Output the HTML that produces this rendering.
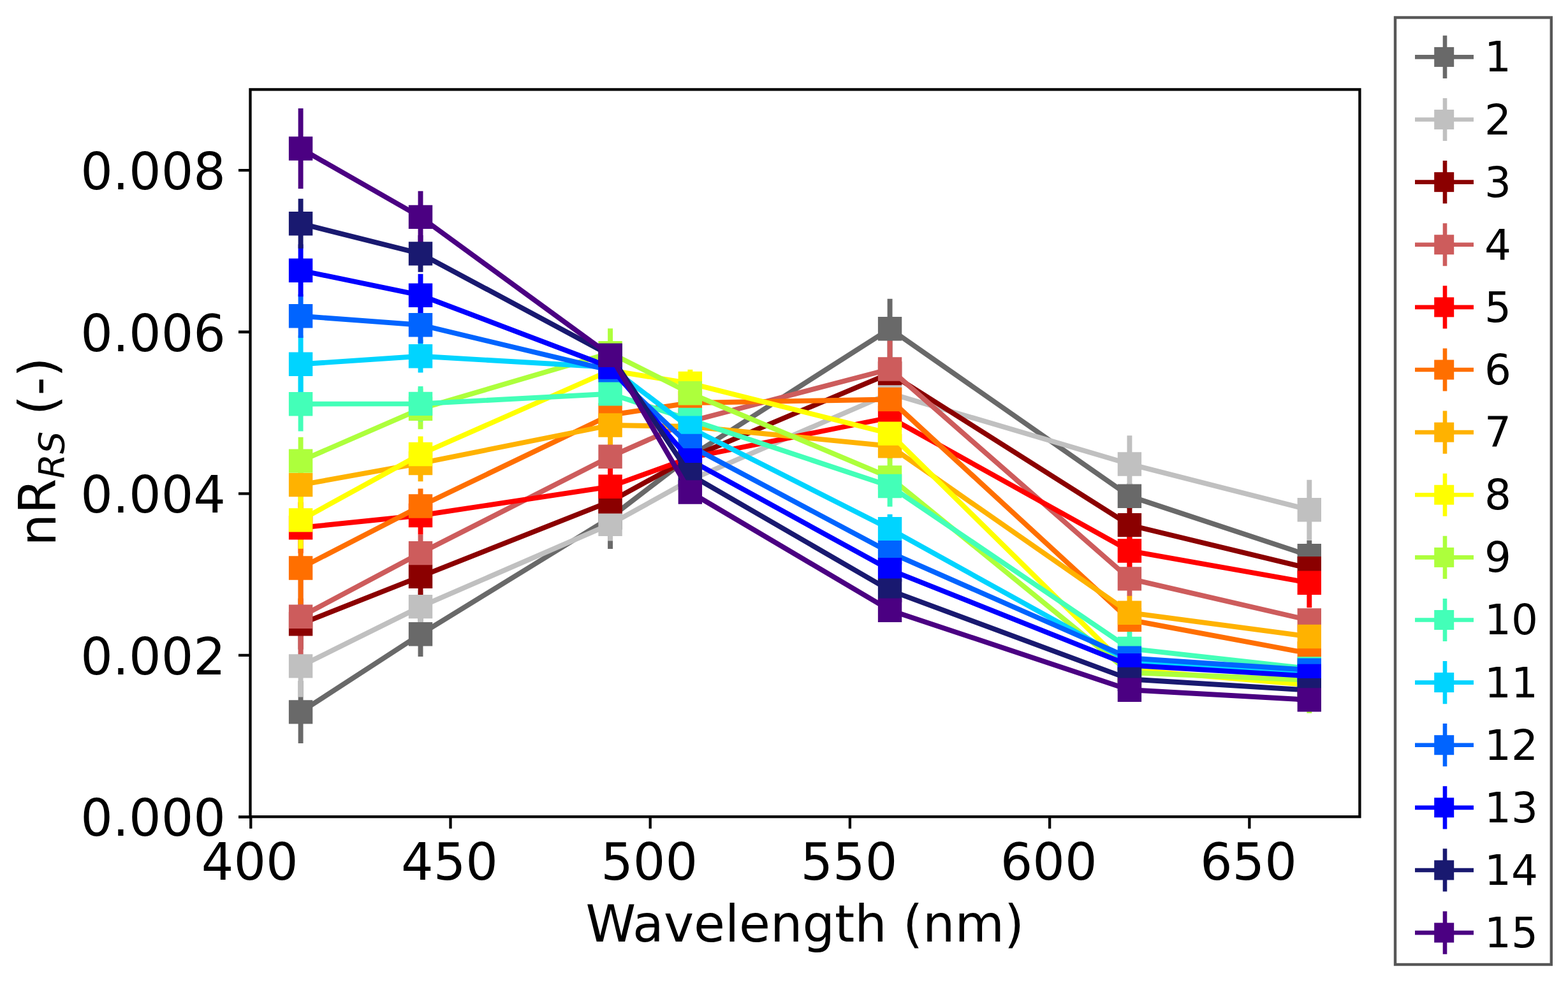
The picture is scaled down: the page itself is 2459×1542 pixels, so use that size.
<!DOCTYPE html>
<html><head><meta charset="utf-8"><title>nRrs spectra</title>
<style>html,body{margin:0;padding:0;background:#fff;}svg{display:block;}text{font-family:"DejaVu Sans","Liberation Sans",sans-serif;fill:#000;}</style></head><body>
<svg width="2459" height="1542" viewBox="0 0 2459 1542">
<rect x="0" y="0" width="2459" height="1542" fill="#fff"/>
<defs><clipPath id="ax"><rect x="392.5" y="140.4" width="1739.9" height="1140.8"/></clipPath></defs>
<g clip-path="url(#ax)">
<g stroke-width="7.9" stroke-linecap="butt" fill="none">
<path stroke="#696969" d="M471.59 1067.9V1165.9M659.51 959.6V1030M957.07 763V861M1082.35 701V731M1395.57 468.8V562.8M1771.42 758.3V798.3M2053.31 847.6V895.6"/>
<path stroke="#c0c0c0" d="M471.59 996.3V1093.5M659.51 926.6V976.6M957.07 796.4V848.4M1082.35 738V768M1395.57 597V637M1771.42 683.3V772.7M2053.31 752.8V846.8"/>
<path stroke="#8b0000" d="M471.59 938.7V1018.7M659.51 875.6V933.2M957.07 766.7V806.7M1082.35 703V733M1395.57 565.6V605.6M1771.42 796.6V850.6M2053.31 876.8V906.8"/>
<path stroke="#cd5c5c" d="M471.59 907.3V1027.3M659.51 838.5V896.7M957.07 696.3V736.3M1082.35 646V676M1395.57 533V625M1771.42 880.9V934.9M2053.31 957.9V987.9"/>
<path stroke="#ff0000" d="M471.59 787.8V867.8M659.51 778.5V838.5M957.07 734.3V792.3M1082.35 703V733M1395.57 635V675M1771.42 838V890M2053.31 875.1V953.3"/>
<path stroke="#ff6f00" d="M471.59 834V948M659.51 766.5V821.5M957.07 631V671M1082.35 617V647M1395.57 606.5V646.5M1771.42 957.4V987.4M2053.31 1010V1040"/>
<path stroke="#ffb200" d="M471.59 725.6V795.6M659.51 698V755.2M957.07 636V698M1082.35 654V684M1395.57 679.7V719.7M1771.42 934.7V987.7M2053.31 983.5V1013.5"/>
<path stroke="#ffff00" d="M471.59 771.1V860.7M659.51 684.4V740.6M957.07 561V601M1082.35 579.7V623.1M1395.57 660.1V700.1M1771.42 1035.4V1065.4M2053.31 1059.5V1089.5"/>
<path stroke="#adff3c" d="M471.59 685.7V760.5M659.51 609.3V673.3M957.07 515.3V592.1M1082.35 601.8V631.8M1395.57 718.8V779.2M1771.42 1039.9V1069.9M2053.31 1014.8V1118.8"/>
<path stroke="#43ffb8" d="M471.59 591V676.4M659.51 606V660.8M957.07 597.7V637.7M1082.35 643.4V673.4M1395.57 730.2V794.8M1771.42 990.9V1043.9M2053.31 1034V1064"/>
<path stroke="#00d4ff" d="M471.59 526.3V616.3M659.51 533V584.6M957.07 556V596M1082.35 656.3V686.3M1395.57 806.8V852.8M1771.42 1022.9V1052.9M2053.31 1039.8V1069.8"/>
<path stroke="#0064ff" d="M471.59 461.6V530M659.51 480.7V538.7M957.07 560.9V600.9M1082.35 684.5V714.5M1395.57 851.6V881.6M1771.42 1017.3V1047.3M2053.31 1036.1V1066.1"/>
<path stroke="#0000ff" d="M471.59 383.3V465.3M659.51 429.8V496.6M957.07 556V596M1082.35 706.9V736.9M1395.57 878.8V908.8M1771.42 1028.6V1058.6M2053.31 1045.5V1075.5"/>
<path stroke="#191970" d="M471.59 311.7V389.7M659.51 369V426.8M957.07 537.4V577.4M1082.35 729.7V759.7M1395.57 911.1V941.1M1771.42 1050.4V1080.4M2053.31 1067.6V1097.6"/>
<path stroke="#4b0082" d="M471.59 170V296M659.51 299.8V381M957.07 537.4V577.4M1082.35 757V787M1395.57 942.2V972.2M1771.42 1067.2V1097.2M2053.31 1082.9V1112.9"/>
</g>
<polyline fill="none" stroke="#696969" stroke-width="7.9" stroke-linejoin="round" stroke-linecap="square" points="471.59,1116.9 659.51,994.8 957.07,812 1082.35,716 1395.57,515.8 1771.42,778.3 2053.31,871.6"/>
<path fill="#696969" d="M452.89 1098.2h37.4v37.4h-37.4zM640.81 976.1h37.4v37.4h-37.4zM938.37 793.3h37.4v37.4h-37.4zM1063.65 697.3h37.4v37.4h-37.4zM1376.87 497.1h37.4v37.4h-37.4zM1752.72 759.6h37.4v37.4h-37.4zM2034.61 852.9h37.4v37.4h-37.4z"/>
<polyline fill="none" stroke="#c0c0c0" stroke-width="7.9" stroke-linejoin="round" stroke-linecap="square" points="471.59,1044.9 659.51,951.6 957.07,822.4 1082.35,753 1395.57,617 1771.42,728 2053.31,799.8"/>
<path fill="#c0c0c0" d="M452.89 1026.2h37.4v37.4h-37.4zM640.81 932.9h37.4v37.4h-37.4zM938.37 803.7h37.4v37.4h-37.4zM1063.65 734.3h37.4v37.4h-37.4zM1376.87 598.3h37.4v37.4h-37.4zM1752.72 709.3h37.4v37.4h-37.4zM2034.61 781.1h37.4v37.4h-37.4z"/>
<polyline fill="none" stroke="#8b0000" stroke-width="7.9" stroke-linejoin="round" stroke-linecap="square" points="471.59,978.7 659.51,904.4 957.07,786.7 1082.35,718 1395.57,585.6 1771.42,823.6 2053.31,891.8"/>
<path fill="#8b0000" d="M452.89 960h37.4v37.4h-37.4zM640.81 885.7h37.4v37.4h-37.4zM938.37 768h37.4v37.4h-37.4zM1063.65 699.3h37.4v37.4h-37.4zM1376.87 566.9h37.4v37.4h-37.4zM1752.72 804.9h37.4v37.4h-37.4zM2034.61 873.1h37.4v37.4h-37.4z"/>
<polyline fill="none" stroke="#cd5c5c" stroke-width="7.9" stroke-linejoin="round" stroke-linecap="square" points="471.59,967.3 659.51,867.6 957.07,716.3 1082.35,661 1395.57,579 1771.42,907.9 2053.31,972.9"/>
<path fill="#cd5c5c" d="M452.89 948.6h37.4v37.4h-37.4zM640.81 848.9h37.4v37.4h-37.4zM938.37 697.6h37.4v37.4h-37.4zM1063.65 642.3h37.4v37.4h-37.4zM1376.87 560.3h37.4v37.4h-37.4zM1752.72 889.2h37.4v37.4h-37.4zM2034.61 954.2h37.4v37.4h-37.4z"/>
<polyline fill="none" stroke="#ff0000" stroke-width="7.9" stroke-linejoin="round" stroke-linecap="square" points="471.59,827.8 659.51,808.5 957.07,763.3 1082.35,718 1395.57,655 1771.42,864 2053.31,914.2"/>
<path fill="#ff0000" d="M452.89 809.1h37.4v37.4h-37.4zM640.81 789.8h37.4v37.4h-37.4zM938.37 744.6h37.4v37.4h-37.4zM1063.65 699.3h37.4v37.4h-37.4zM1376.87 636.3h37.4v37.4h-37.4zM1752.72 845.3h37.4v37.4h-37.4zM2034.61 895.5h37.4v37.4h-37.4z"/>
<polyline fill="none" stroke="#ff6f00" stroke-width="7.9" stroke-linejoin="round" stroke-linecap="square" points="471.59,891 659.51,794 957.07,651 1082.35,632 1395.57,626.5 1771.42,972.4 2053.31,1025"/>
<path fill="#ff6f00" d="M452.89 872.3h37.4v37.4h-37.4zM640.81 775.3h37.4v37.4h-37.4zM938.37 632.3h37.4v37.4h-37.4zM1063.65 613.3h37.4v37.4h-37.4zM1376.87 607.8h37.4v37.4h-37.4zM1752.72 953.7h37.4v37.4h-37.4zM2034.61 1006.3h37.4v37.4h-37.4z"/>
<polyline fill="none" stroke="#ffb200" stroke-width="7.9" stroke-linejoin="round" stroke-linecap="square" points="471.59,760.6 659.51,726.6 957.07,667 1082.35,669 1395.57,699.7 1771.42,961.2 2053.31,998.5"/>
<path fill="#ffb200" d="M452.89 741.9h37.4v37.4h-37.4zM640.81 707.9h37.4v37.4h-37.4zM938.37 648.3h37.4v37.4h-37.4zM1063.65 650.3h37.4v37.4h-37.4zM1376.87 681h37.4v37.4h-37.4zM1752.72 942.5h37.4v37.4h-37.4zM2034.61 979.8h37.4v37.4h-37.4z"/>
<polyline fill="none" stroke="#ffff00" stroke-width="7.9" stroke-linejoin="round" stroke-linecap="square" points="471.59,815.9 659.51,712.5 957.07,581 1082.35,601.4 1395.57,680.1 1771.42,1050.4 2053.31,1074.5"/>
<path fill="#ffff00" d="M452.89 797.2h37.4v37.4h-37.4zM640.81 693.8h37.4v37.4h-37.4zM938.37 562.3h37.4v37.4h-37.4zM1063.65 582.7h37.4v37.4h-37.4zM1376.87 661.4h37.4v37.4h-37.4zM1752.72 1031.7h37.4v37.4h-37.4zM2034.61 1055.8h37.4v37.4h-37.4z"/>
<polyline fill="none" stroke="#adff3c" stroke-width="7.9" stroke-linejoin="round" stroke-linecap="square" points="471.59,723.1 659.51,641.3 957.07,553.7 1082.35,616.8 1395.57,749 1771.42,1054.9 2053.31,1066.8"/>
<path fill="#adff3c" d="M452.89 704.4h37.4v37.4h-37.4zM640.81 622.6h37.4v37.4h-37.4zM938.37 535h37.4v37.4h-37.4zM1063.65 598.1h37.4v37.4h-37.4zM1376.87 730.3h37.4v37.4h-37.4zM1752.72 1036.2h37.4v37.4h-37.4zM2034.61 1048.1h37.4v37.4h-37.4z"/>
<polyline fill="none" stroke="#43ffb8" stroke-width="7.9" stroke-linejoin="round" stroke-linecap="square" points="471.59,633.7 659.51,633.4 957.07,617.7 1082.35,658.4 1395.57,762.5 1771.42,1017.4 2053.31,1049"/>
<path fill="#43ffb8" d="M452.89 615h37.4v37.4h-37.4zM640.81 614.7h37.4v37.4h-37.4zM938.37 599h37.4v37.4h-37.4zM1063.65 639.7h37.4v37.4h-37.4zM1376.87 743.8h37.4v37.4h-37.4zM1752.72 998.7h37.4v37.4h-37.4zM2034.61 1030.3h37.4v37.4h-37.4z"/>
<polyline fill="none" stroke="#00d4ff" stroke-width="7.9" stroke-linejoin="round" stroke-linecap="square" points="471.59,571.3 659.51,558.8 957.07,576 1082.35,671.3 1395.57,829.8 1771.42,1037.9 2053.31,1054.8"/>
<path fill="#00d4ff" d="M452.89 552.6h37.4v37.4h-37.4zM640.81 540.1h37.4v37.4h-37.4zM938.37 557.3h37.4v37.4h-37.4zM1063.65 652.6h37.4v37.4h-37.4zM1376.87 811.1h37.4v37.4h-37.4zM1752.72 1019.2h37.4v37.4h-37.4zM2034.61 1036.1h37.4v37.4h-37.4z"/>
<polyline fill="none" stroke="#0064ff" stroke-width="7.9" stroke-linejoin="round" stroke-linecap="square" points="471.59,495.8 659.51,509.7 957.07,580.9 1082.35,699.5 1395.57,866.6 1771.42,1032.3 2053.31,1051.1"/>
<path fill="#0064ff" d="M452.89 477.1h37.4v37.4h-37.4zM640.81 491h37.4v37.4h-37.4zM938.37 562.2h37.4v37.4h-37.4zM1063.65 680.8h37.4v37.4h-37.4zM1376.87 847.9h37.4v37.4h-37.4zM1752.72 1013.6h37.4v37.4h-37.4zM2034.61 1032.4h37.4v37.4h-37.4z"/>
<polyline fill="none" stroke="#0000ff" stroke-width="7.9" stroke-linejoin="round" stroke-linecap="square" points="471.59,424.3 659.51,463.2 957.07,576 1082.35,721.9 1395.57,893.8 1771.42,1043.6 2053.31,1060.5"/>
<path fill="#0000ff" d="M452.89 405.6h37.4v37.4h-37.4zM640.81 444.5h37.4v37.4h-37.4zM938.37 557.3h37.4v37.4h-37.4zM1063.65 703.2h37.4v37.4h-37.4zM1376.87 875.1h37.4v37.4h-37.4zM1752.72 1024.9h37.4v37.4h-37.4zM2034.61 1041.8h37.4v37.4h-37.4z"/>
<polyline fill="none" stroke="#191970" stroke-width="7.9" stroke-linejoin="round" stroke-linecap="square" points="471.59,350.7 659.51,397.9 957.07,557.4 1082.35,744.7 1395.57,926.1 1771.42,1065.4 2053.31,1082.6"/>
<path fill="#191970" d="M452.89 332h37.4v37.4h-37.4zM640.81 379.2h37.4v37.4h-37.4zM938.37 538.7h37.4v37.4h-37.4zM1063.65 726h37.4v37.4h-37.4zM1376.87 907.4h37.4v37.4h-37.4zM1752.72 1046.7h37.4v37.4h-37.4zM2034.61 1063.9h37.4v37.4h-37.4z"/>
<polyline fill="none" stroke="#4b0082" stroke-width="7.9" stroke-linejoin="round" stroke-linecap="square" points="471.59,233 659.51,340.4 957.07,557.4 1082.35,772 1395.57,957.2 1771.42,1082.2 2053.31,1097.9"/>
<path fill="#4b0082" d="M452.89 214.3h37.4v37.4h-37.4zM640.81 321.7h37.4v37.4h-37.4zM938.37 538.7h37.4v37.4h-37.4zM1063.65 753.3h37.4v37.4h-37.4zM1376.87 938.5h37.4v37.4h-37.4zM1752.72 1063.5h37.4v37.4h-37.4zM2034.61 1079.2h37.4v37.4h-37.4z"/>
</g>
<rect x="392.5" y="140.4" width="1739.9" height="1140.8" fill="none" stroke="#000" stroke-width="4.3" stroke-linejoin="miter"/>
<path stroke="#000" stroke-width="4.3" fill="none" d="M393.28 1281.2v18.5M706.5 1281.2v18.5M1019.71 1281.2v18.5M1332.92 1281.2v18.5M1646.14 1281.2v18.5M1959.35 1281.2v18.5M392.5 1281.5h-18.5M392.5 1027.92h-18.5M392.5 774.34h-18.5M392.5 520.77h-18.5M392.5 267.19h-18.5"/>
<text x="391.78" y="1379.8" font-size="79.6" text-anchor="middle">400</text>
<text x="705" y="1379.8" font-size="79.6" text-anchor="middle">450</text>
<text x="1018.21" y="1379.8" font-size="79.6" text-anchor="middle">500</text>
<text x="1331.42" y="1379.8" font-size="79.6" text-anchor="middle">550</text>
<text x="1644.64" y="1379.8" font-size="79.6" text-anchor="middle">600</text>
<text x="1957.85" y="1379.8" font-size="79.6" text-anchor="middle">650</text>
<text x="354" y="1311.3" font-size="79.6" text-anchor="end">0.000</text>
<text x="354" y="1057.72" font-size="79.6" text-anchor="end">0.002</text>
<text x="354" y="804.14" font-size="79.6" text-anchor="end">0.004</text>
<text x="354" y="550.57" font-size="79.6" text-anchor="end">0.006</text>
<text x="354" y="296.99" font-size="79.6" text-anchor="end">0.008</text>
<text x="1262.3" y="1477" font-size="79.6" text-anchor="middle">Wavelength (nm)</text>
<text transform="translate(86.5,708.5) rotate(-90)" font-size="79.6" text-anchor="middle">nR<tspan font-style="italic" font-size="55.72" dy="13">RS</tspan><tspan dy="-13"> (-)</tspan></text>
<rect x="2188" y="27.5" width="244.8" height="1485.5" fill="#fff" stroke="#575757" stroke-width="4.4"/>
<path stroke="#696969" stroke-width="6.6" fill="none" d="M2219 89.4H2311M2266 55.8V123"/>
<rect x="2249.2" y="73.9" width="31" height="31" fill="#696969"/>
<text x="2328" y="112.4" font-size="66">1</text>
<path stroke="#c0c0c0" stroke-width="6.6" fill="none" d="M2219 187.52H2311M2266 153.92V221.12"/>
<rect x="2249.2" y="172.02" width="31" height="31" fill="#c0c0c0"/>
<text x="2328" y="210.52" font-size="66">2</text>
<path stroke="#8b0000" stroke-width="6.6" fill="none" d="M2219 285.64H2311M2266 252.04V319.24"/>
<rect x="2249.2" y="270.14" width="31" height="31" fill="#8b0000"/>
<text x="2328" y="308.64" font-size="66">3</text>
<path stroke="#cd5c5c" stroke-width="6.6" fill="none" d="M2219 383.76H2311M2266 350.16V417.36"/>
<rect x="2249.2" y="368.26" width="31" height="31" fill="#cd5c5c"/>
<text x="2328" y="406.76" font-size="66">4</text>
<path stroke="#ff0000" stroke-width="6.6" fill="none" d="M2219 481.88H2311M2266 448.28V515.48"/>
<rect x="2249.2" y="466.38" width="31" height="31" fill="#ff0000"/>
<text x="2328" y="504.88" font-size="66">5</text>
<path stroke="#ff6f00" stroke-width="6.6" fill="none" d="M2219 580H2311M2266 546.4V613.6"/>
<rect x="2249.2" y="564.5" width="31" height="31" fill="#ff6f00"/>
<text x="2328" y="603" font-size="66">6</text>
<path stroke="#ffb200" stroke-width="6.6" fill="none" d="M2219 678.12H2311M2266 644.52V711.72"/>
<rect x="2249.2" y="662.62" width="31" height="31" fill="#ffb200"/>
<text x="2328" y="701.12" font-size="66">7</text>
<path stroke="#ffff00" stroke-width="6.6" fill="none" d="M2219 776.24H2311M2266 742.64V809.84"/>
<rect x="2249.2" y="760.74" width="31" height="31" fill="#ffff00"/>
<text x="2328" y="799.24" font-size="66">8</text>
<path stroke="#adff3c" stroke-width="6.6" fill="none" d="M2219 874.36H2311M2266 840.76V907.96"/>
<rect x="2249.2" y="858.86" width="31" height="31" fill="#adff3c"/>
<text x="2328" y="897.36" font-size="66">9</text>
<path stroke="#43ffb8" stroke-width="6.6" fill="none" d="M2219 972.48H2311M2266 938.88V1006.08"/>
<rect x="2249.2" y="956.98" width="31" height="31" fill="#43ffb8"/>
<text x="2328" y="995.48" font-size="66">10</text>
<path stroke="#00d4ff" stroke-width="6.6" fill="none" d="M2219 1070.6H2311M2266 1037V1104.2"/>
<rect x="2249.2" y="1055.1" width="31" height="31" fill="#00d4ff"/>
<text x="2328" y="1093.6" font-size="66">11</text>
<path stroke="#0064ff" stroke-width="6.6" fill="none" d="M2219 1168.72H2311M2266 1135.12V1202.32"/>
<rect x="2249.2" y="1153.22" width="31" height="31" fill="#0064ff"/>
<text x="2328" y="1191.72" font-size="66">12</text>
<path stroke="#0000ff" stroke-width="6.6" fill="none" d="M2219 1266.84H2311M2266 1233.24V1300.44"/>
<rect x="2249.2" y="1251.34" width="31" height="31" fill="#0000ff"/>
<text x="2328" y="1289.84" font-size="66">13</text>
<path stroke="#191970" stroke-width="6.6" fill="none" d="M2219 1364.96H2311M2266 1331.36V1398.56"/>
<rect x="2249.2" y="1349.46" width="31" height="31" fill="#191970"/>
<text x="2328" y="1387.96" font-size="66">14</text>
<path stroke="#4b0082" stroke-width="6.6" fill="none" d="M2219 1463.08H2311M2266 1429.48V1496.68"/>
<rect x="2249.2" y="1447.58" width="31" height="31" fill="#4b0082"/>
<text x="2328" y="1486.08" font-size="66">15</text>
</svg>
</body></html>
